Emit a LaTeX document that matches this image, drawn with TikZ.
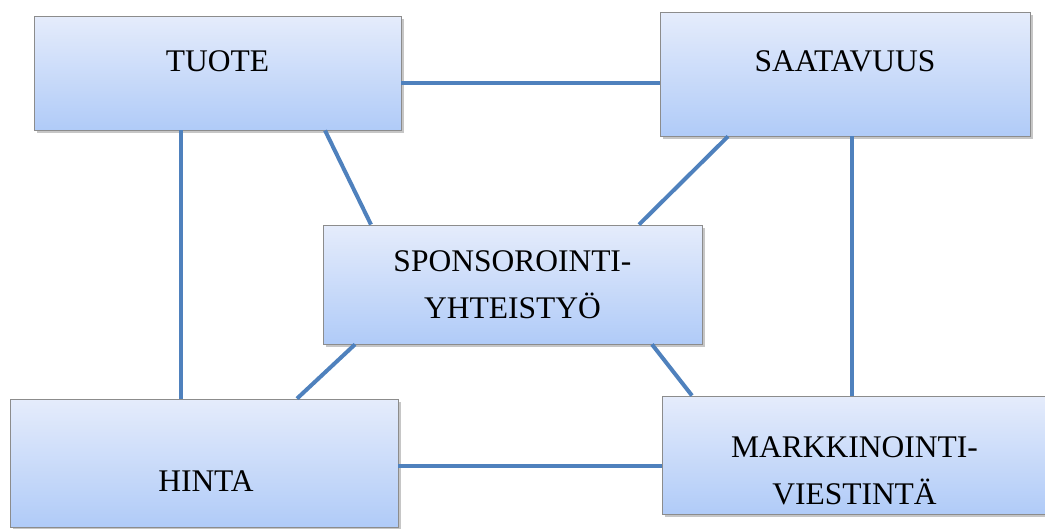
\documentclass[tikz,border=0pt]{standalone}
\usepackage{fontspec}
\setmainfont{Liberation Serif}
\usetikzlibrary{shadows}

\definecolor{boxtop}{RGB}{229,236,251}
\definecolor{boxbottom}{RGB}{176,203,248}
\definecolor{boxline}{RGB}{140,140,140}
\definecolor{linkblue}{RGB}{79,129,189}

\begin{document}
\begin{tikzpicture}[x=1pt, y=-1pt,
                    box/.style={draw=boxline, line width=0.8pt, top color=boxtop, bottom color=boxbottom,
                                drop shadow={shadow xshift=2.5pt, shadow yshift=-3pt, opacity=0.45}, inner sep=0pt},
                    link/.style={draw=linkblue, line width=4pt},
                    lbl/.style={font=\fontsize{31.5}{47.5}\selectfont, align=center, inner sep=0pt}]
        \useasboundingbox (0,0) rectangle (1045,528);
        % boxes
        \node[box, minimum width=367pt, minimum height=114pt] (tuote) at (217.5,73) {};
        \node[box, minimum width=370pt, minimum height=124pt] (saatavuus) at (845,74) {};
        \node[box, minimum width=379pt, minimum height=119pt, lbl] (sponsor) at (512.5,284.5) {SPONSOROINTI-\\YHTEISTYÖ};
        \node[box, minimum width=388pt, minimum height=128pt] (hinta) at (204,463) {};
        \node[box, minimum width=384pt, minimum height=118pt] (viestinta) at (854,455) {};
        % texts
        \node[lbl] (tuote-txt) at ([yshift=12pt]tuote.center) {TUOTE};
        \node[lbl] (saatavuus-txt) at ([yshift=13pt]saatavuus.center) {SAATAVUUS};
        \node[lbl] (hinta-txt) at ([xshift=2pt, yshift=-18.5pt]hinta.center) {HINTA};
        \node[lbl] (viestinta-txt) at ([xshift=0.5pt, yshift=-16pt]viestinta.center) {MARKKINOINTI-\\VIESTINTÄ};
        % links
        \draw[link] ([yshift=-10pt]tuote.east) -- ([yshift=-10pt]tuote.east -| saatavuus.west);
        \draw[link] ([xshift=-36.5pt]tuote.south) -- ([xshift=-36.5pt]tuote.south |- hinta.north);
        \draw[link] ([xshift=7pt]saatavuus.south) -- ([xshift=7pt]saatavuus.south |- viestinta.north);
        \draw[link] ([yshift=-3pt]hinta.east) -- ([yshift=-3pt]hinta.east -| viestinta.west);
        \draw[link] ([xshift=107.5pt]tuote.south) -- ([xshift=-141.5pt]sponsor.north);
        \draw[link] ([xshift=-117pt]saatavuus.south) -- ([xshift=126.5pt]sponsor.north);
        \draw[link] ([xshift=-157.5pt]sponsor.south) -- ([xshift=93pt]hinta.north);
        \draw[link] ([xshift=139.5pt]sponsor.south) -- ([xshift=-162pt]viestinta.north);
\end{tikzpicture}
\end{document}
